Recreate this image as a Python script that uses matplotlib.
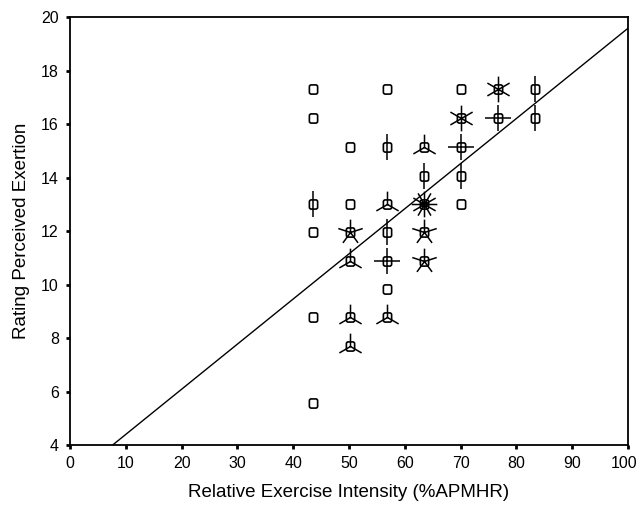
import numpy as np
import matplotlib
matplotlib.use('Agg')
import matplotlib.pyplot as plt
import matplotlib.transforms as mtransforms
from matplotlib.path import Path

plt.rcParams.update({
    'font.family': ['Liberation Sans', 'DejaVu Sans'],
    'font.size': 11,
})

# --- sunflower data: each point = (intensity, RPE, number of cases) ---
intensity = [43.5, 43.5, 43.5, 43.5, 43.5, 43.5,
             50.2, 50.2, 50.2, 50.2, 50.2, 50.2,
             56.8, 56.8, 56.8, 56.8, 56.8, 56.8, 56.8,
             63.4, 63.4, 63.4, 63.4, 63.4,
             70.1, 70.1, 70.1, 70.1, 70.1,
             76.7, 76.7,
             83.3, 83.3]
rpe = [17.30, 16.24, 13.01, 11.95, 8.77, 5.56,
       15.13, 13.01, 11.95, 10.89, 8.77, 7.70,
       17.30, 15.13, 13.01, 11.95, 10.89, 9.82, 8.77,
       15.13, 14.07, 13.01, 11.95, 10.89,
       17.30, 16.24, 15.13, 14.07, 13.01,
       17.30, 16.24,
       17.30, 16.24]
counts = [1, 1, 2, 1, 1, 1,
          1, 1, 5, 3, 3, 3,
          1, 2, 3, 2, 4, 1, 3,
          3, 2, 12, 5, 5,
          1, 6, 4, 2, 1,
          6, 4,
          2, 2]

# fitted line RPE = a + b * intensity
fit_intercept = 2.71
fit_slope = 0.1687


def rounded_square(r=0.4):
    v = [(-0.9 + r, -1), (0.9 - r, -1), (0.9, -1), (0.9, -1 + r), (0.9, 1 - r), (0.9, 1),
         (0.9 - r, 1), (-0.9 + r, 1), (-0.9, 1), (-0.9, 1 - r), (-0.9, -1 + r), (-0.9, -1),
         (-0.9 + r, -1), (0, 0)]
    c = [Path.MOVETO, Path.LINETO, Path.CURVE3, Path.CURVE3, Path.LINETO,
         Path.CURVE3, Path.CURVE3, Path.LINETO, Path.CURVE3, Path.CURVE3,
         Path.LINETO, Path.CURVE3, Path.CURVE3, Path.CLOSEPOLY]
    return Path(v, c)


def petals(n):
    # n spokes starting straight up
    verts, codes = [], []
    for k in range(n):
        a = np.pi / 2 + 2 * np.pi * k / n
        verts += [(0, 0), (np.cos(a), np.sin(a))]
        codes += [Path.MOVETO, Path.LINETO]
    return Path(verts, codes)


fig = plt.figure(figsize=(6.39, 5.20), dpi=100)
ax = fig.add_axes([0.1095, 0.1442, 0.8733, 0.8231])

xs = np.array([0, 100])
ax.plot(xs, fit_intercept + fit_slope * xs, color='black', lw=1.0, zorder=2)

for x, y, n in zip(intensity, rpe, counts):
    if n > 1:
        ax.plot(x, y, marker=petals(n), markersize=18.5, color='black',
                mew=1.1, linestyle='none', zorder=3)
ax.plot(intensity, rpe, marker=rounded_square(), markersize=6.6, linestyle='none',
        markerfacecolor='none', markeredgecolor='black', mew=1.2, zorder=4)

ax.set_xlim(0, 100)
ax.set_ylim(4, 20)
ax.set_xticks(range(0, 101, 10))
ax.set_yticks(range(4, 21, 2))
ax.tick_params(direction='out', length=3, width=2, pad=5, labelsize=11.5)

# nudge "100" a little so it stays inside the figure
last = ax.get_xticklabels()[-1]
last.set_transform(last.get_transform() +
                   mtransforms.ScaledTranslation(-3 / 72, 0, fig.dpi_scale_trans))

for s in ax.spines.values():
    s.set_linewidth(1.3)

ax.set_xlabel('Relative Exercise Intensity (%APMHR)', fontsize=13.5, labelpad=9)
ax.set_ylabel('Rating Perceived Exertion', fontsize=13.5, labelpad=8)

fig.savefig('out.png', dpi=100)
